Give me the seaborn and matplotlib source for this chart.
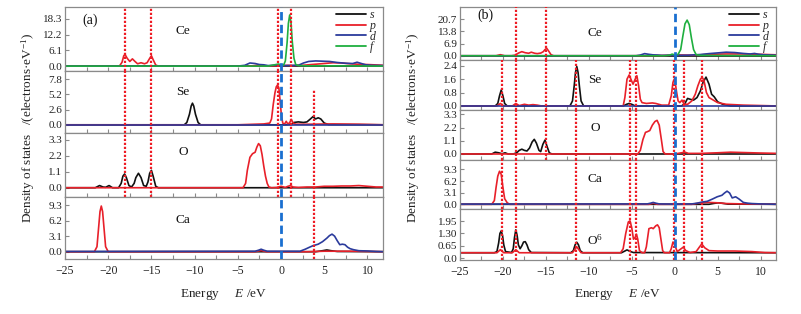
import matplotlib
matplotlib.use('Agg')
import matplotlib.pyplot as plt
import seaborn as sns
from matplotlib.ticker import MultipleLocator, FixedLocator
from matplotlib.lines import Line2D

sns.set_theme(style='white')
plt.rcParams['font.family'] = ['Liberation Serif', 'DejaVu Serif']
plt.rcParams['mathtext.fontset'] = 'custom'
plt.rcParams['mathtext.rm'] = 'Liberation Serif'
plt.rcParams['mathtext.it'] = 'Liberation Serif:italic'

# ---------------- data: panel (a) ----------------
a_ce_s_x = [-25, 12]
a_ce_s_y = [0, 0]
a_ce_p_x = [-25, -18.7, -18.4, -18.2, -18.05, -17.8, -17.5, -17.2, -16.9, -16.6, -16.2, -15.8, -15.5, -15.2, -15.0, -14.8,
            -14.5, -14.2, -5, -3.5, -2.8, -2, 0, 0.8, 1.3, 1.8, 2.5, 3.5, 5, 6, 7, 8, 9, 10, 12]
a_ce_p_y = [0, 0, 1.5, 4.0, 4.5, 3.0, 1.8, 2.8, 1.8, 0.9, 1.3, 0.9, 1.3, 3.0, 4.0, 2.5,
            0.4, 0, 0, 0, 0.3, 0, 0.2, 0.3, 0.2, 0.3, 0.3, 0.6, 1.0, 1.3, 1.2, 0.9, 0.7, 0.6, 0.3]
a_ce_d_x = [-25, -5, -4.2, -3.6, -3.0, -2.5, -2.0, -1.5, -0.5, 0, 0.5, 2, 2.6, 3.2, 4, 4.8, 5.6, 6.5, 7.5, 8.3, 8.8,
            9.3, 9.8, 10.5, 12]
a_ce_d_y = [0, 0, 0.3, 1.2, 1.0, 0.6, 0.5, 0.2, 0.4, 0.3, 0.2, 0.3, 1.2, 1.8, 2.0, 1.9, 1.8, 1.4, 1.1, 1.0, 1.5,
            1.0, 0.5, 0.3, 0.2]
a_ce_f_x = [-25, -1.5, -0.6, -0.3, 0, 0.3, 0.5, 0.7, 0.85, 1.0, 1.15, 1.3, 1.5, 1.7, 2.0, 3, 6, 12]
a_ce_f_y = [0, 0, 0.6, 0.8, 0.5, 0.4, 2.0, 9.0, 16.5, 19.8, 17.0, 9.5, 3.0, 0.6, 0.2, 0.1, 0.1, 0]

a_se_s_x = [-25, -11.2, -10.9, -10.6, -10.4, -10.25, -10.1, -9.9, -9.6, -9.3, 0.5, 1.2, 1.5, 2.0, 2.6, 3.0, 3.4,
            3.7, 4.0, 4.3, 4.6, 5.0, 5.5, 12]
a_se_s_y = [0, 0, 0.4, 1.8, 3.2, 3.7, 3.2, 1.8, 0.4, 0, 0, 0.1, 0.4, 0.5, 0.4, 0.5, 1.0,
            1.4, 1.0, 1.2, 1.0, 0.3, 0.05, 0]
a_se_p_x = [-25, -5, -3, -2, -1.3, -1.1, -0.9, -0.7, -0.55, -0.4, -0.25, -0.1, 0.05, 0.2, 0.4, 0.6, 0.8, 1.0, 1.2,
            1.4, 1.7, 3, 6, 9, 12]
a_se_p_y = [0, 0, 0.1, 0.15, 0.3, 1.0, 3.5, 5.5, 6.5, 6.8, 6.3, 4.0, 1.5, 0.3, 0.1, 0.6, 0.1, 0.4, 0.9,
            0.3, 0.1, 0.1, 0.15, 0.1, 0]
a_se_d_x = [-25, 12]
a_se_d_y = [0, 0]

a_o_s_x = [-25, -21.5, -21.0, -20.6, -20.3, -19.9, -19.5, -18.8, -18.5, -18.3, -18.1, -17.9, -17.6, -17.3, -17.0,
           -16.8, -16.5, -16.2, -15.9, -15.6, -15.4, -15.2, -15.0, -14.8, -14.5, -14.2, -4, 12]
a_o_s_y = [0, 0, 0.15, 0.05, 0.03, 0.15, 0.0, 0.0, 0.3, 0.8, 0.95, 0.7, 0.15, 0.05, 0.3,
           0.7, 1.0, 0.7, 0.15, 0.1, 0.4, 1.0, 1.2, 0.8, 0.1, 0, 0, 0]
a_o_p_x = [-25, -4.4, -4.1, -3.9, -3.6, -3.3, -3.0, -2.8, -2.6, -2.4, -2.2, -2.0, -1.8, -1.6, -1.4, -1.1, -0.5, 0,
           0.5, 0.8, 1.1, 1.4, 2, 3, 4, 5, 6, 7, 8, 9, 10, 11, 12]
a_o_p_y = [0, 0, 0.3, 1.2, 2.1, 2.35, 2.45, 2.8, 3.05, 2.9, 2.3, 1.5, 0.8, 0.3, 0.05, 0, 0.02, 0.1,
           0.02, 0.1, 0.15, 0.05, 0.02, 0.05, 0.05, 0.1, 0.1, 0.12, 0.12, 0.15, 0.1, 0.05, 0.05]

a_ca_s_x = [-25, 4, 4.8, 5.3, 5.8, 6.5, 12]
a_ca_s_y = [0, 0, 0.2, 0.35, 0.2, 0.05, 0]
a_ca_p_x = [-25, -21.6, -21.3, -21.1, -20.95, -20.8, -20.65, -20.5, -20.3, -20.0, -3, -2.3, -1.7, 3, 5, 8, 12]
a_ca_p_y = [0, 0, 1.0, 5.0, 8.0, 9.1, 8.0, 5.0, 1.0, 0, 0, 0.25, 0, 0, 0.1, 0.1, 0]
a_ca_d_x = [-25, -3.0, -2.6, -2.3, -2.0, -1.6, -0.5, 0, 2.2, 2.8, 3.3, 3.7, 4.3, 4.8, 5.3, 5.6, 5.9, 6.2, 6.5, 6.8,
            7.1, 7.4, 7.7, 8.0, 8.4, 9, 10, 11, 12]
a_ca_d_y = [0.05, 0.1, 0.3, 0.5, 0.3, 0.1, 0.1, 0.1, 0.1, 0.5, 0.9, 1.2, 1.5, 2.0, 2.7, 3.2, 3.5, 3.1, 2.2, 1.4,
            1.5, 1.4, 0.9, 0.6, 0.4, 0.2, 0.15, 0.05, 0]

# ---------------- data: panel (b) ----------------
b_ce_s_x = [-25, 12]
b_ce_s_y = [0, 0]
b_ce_p_x = [-25, -20.8, -20.3, -19.8, -19.0, -18.6, -18.2, -17.8, -17.4, -17.0, -16.7, -16.3, -16.0, -15.6, -15.3,
            -15.1, -14.9, -14.7, -14.4, -14.1, -5, -1, 0, 1, 2, 3, 4, 6, 8, 10, 12]
b_ce_p_y = [0, 0, 0.6, 0, 0, 0.3, 1.5, 2.3, 1.7, 1.4, 2.0, 1.4, 1.2, 1.5, 2.3,
            3.5, 4.2, 2.8, 0.6, 0, 0, 0.2, 0.5, 0.4, 0.3, 0.5, 0.8, 1.0, 1.0, 0.8, 0.5]
b_ce_d_x = [-25, -4.5, -4.0, -3.5, -3.0, -2.5, -2.0, -1.5, -0.5, 0, 1.5, 3, 4, 5, 6, 7, 8, 8.8, 9.3, 9.8, 10.5, 12]
b_ce_d_y = [0, 0, 0.4, 1.2, 0.8, 0.5, 0.4, 0.2, 0.3, 0.2, 0.3, 0.7, 1.2, 1.6, 2.0, 1.8, 1.3, 1.0, 1.3, 0.8, 0.5, 0.3]
b_ce_f_x = [-25, -1.2, -0.6, -0.3, 0.1, 0.4, 0.7, 0.95, 1.2, 1.45, 1.7, 1.95, 2.2, 2.5, 3.0, 6, 12]
b_ce_f_y = [0, 0, 0.3, 0.9, 0.4, 0.8, 3.5, 11, 18, 20.1, 17.5, 10, 3.5, 0.6, 0.2, 0.1, 0]

b_se_s_x = [-25, -20.9, -20.6, -20.4, -20.2, -20.0, -19.8, -19.5, -12.2, -11.9, -11.7, -11.55, -11.4, -11.25, -11.1,
            -10.9, -10.6, -6, -5.6, -5.3, -5.0, -4.6, 0.8, 1.2, 1.5, 1.8, 2.2, 2.6, 3.0, 3.3, 3.65, 4.0, 4.3, 4.6,
            5.0, 5.6, 6.5, 12]
b_se_s_y = [0, 0, 0.15, 0.6, 0.95, 0.6, 0.15, 0, 0, 0.3, 1.2, 2.0, 2.35, 2.0, 1.2,
            0.3, 0, 0, 0.1, 0.15, 0.1, 0, 0, 0.15, 0.45, 0.4, 0.35, 0.5, 0.9, 1.4, 1.72, 1.3, 0.7, 0.55,
            0.25, 0.1, 0, 0]
b_se_p_x = [-25, -20.7, -20.3, -19.9, -18.9, -18.5, -18.1, -17.5, -17.0, -16.5, -16.0, -15.5, -6.0, -5.8, -5.55,
            -5.3, -5.1, -4.85, -4.6, -4.4, -4.2, -4.0, -3.8, -3.3, -2.6, -2.2, -1.5, -0.7, -0.4, -0.2, 0.0, 0.2,
            0.4, 0.6, 0.85, 1.1, 1.5, 2.0, 2.4, 2.7, 3.0, 3.2, 3.4, 3.7, 4.0, 4.5, 5.0, 6, 8, 12]
b_se_p_y = [0, 0, 0.15, 0, 0, 0.15, 0.02, 0.1, 0.05, 0.08, 0.05, 0, 0, 0.5, 1.6,
            1.85, 1.6, 1.3, 1.6, 1.8, 1.2, 0.4, 0.2, 0.15, 0.18, 0.15, 0.05, 0.05, 0.6, 1.4, 1.65, 0.9,
            0.3, 0.2, 0.35, 0.1, 0.1, 0.3, 0.7, 1.2, 1.6, 1.7, 1.55, 0.8, 0.5, 0.35, 0.2, 0.1, 0.05, 0]
b_se_d_x = [-25, 12]
b_se_d_y = [0, 0]

b_o_s_x = [-25, -21.3, -20.9, -20.5, -20.1, -19.75, -19.4, -18.8, -18.4, -18.1, -17.8, -17.5, -17.2, -16.9, -16.6,
           -16.35, -16.1, -15.8, -15.6, -15.35, -15.1, -14.85, -14.6, -14.3, 12]
b_o_s_y = [0, 0, 0.15, 0.1, 0.02, 0.1, 0, 0, 0.1, 0.3, 0.4, 0.3, 0.25, 0.5, 1.0,
           1.22, 0.9, 0.3, 0.2, 0.8, 1.16, 0.6, 0.1, 0, 0]
b_o_p_x = [-25, -4.3, -4.0, -3.7, -3.4, -3.2, -2.9, -2.6, -2.3, -2.05, -1.8, -1.55, -1.35, -1.1, 0, 0.8, 1.2, 1.6,
           3, 5, 6.5, 8, 10, 12]
b_o_p_y = [0, 0, 0.3, 1.2, 1.8, 1.85, 1.95, 2.4, 2.7, 2.8, 2.4, 1.2, 0.2, 0, 0, 0.1, 0.15, 0.05,
           0.05, 0.1, 0.15, 0.12, 0.08, 0.05]

b_ca_s_x = [-25, 4, 4.6, 5.1, 5.6, 6.2, 12]
b_ca_s_y = [0, 0, 0.25, 0.4, 0.25, 0.05, 0]
b_ca_p_x = [-25, -21.3, -21.0, -20.8, -20.6, -20.4, -20.2, -20.0, -19.8, -19.5, -19.2, -3, -2.5, -2, 2, 3, 4, 5, 6,
            8, 12]
b_ca_p_y = [0, 0, 1.0, 4.5, 7.5, 8.8, 8.0, 4.5, 1.5, 0.4, 0, 0, 0.3, 0, 0, 0.4, 0.5, 0.4, 0.2, 0.1, 0]
b_ca_d_x = [-25, -3.2, -2.8, -2.5, -2.2, -1.8, 0, 2.0, 2.6, 3.2, 3.8, 4.4, 4.95, 5.5, 5.8, 6.1, 6.4, 6.7, 7.1, 7.5,
            8.0, 8.5, 9.0, 10, 12]
b_ca_d_y = [0.05, 0.1, 0.3, 0.5, 0.3, 0.1, 0.05, 0.1, 0.3, 0.6, 0.8, 1.4, 2.0, 2.4, 3.0, 3.5, 3.0, 1.7, 2.0, 1.4,
            0.5, 0.3, 0.2, 0.1, 0]

b_o6_s_x = [-25, -21, -20.7, -20.5, -20.35, -20.2, -20.05, -19.9, -19.7, -19.0, -18.8, -18.65, -18.5, -18.35, -18.2,
            -18.0, -17.8, -17.6, -17.4, -17.2, -17.0, -16.7, -12.1, -11.8, -11.6, -11.4, -11.2, -11.0, -10.7, -6.2,
            -5.8, -5.55, -5.2, -4.8, 12]
b_o6_s_y = [0.29, 0.29, 0.35, 0.8, 1.3, 1.43, 1.2, 0.7, 0.35, 0.3, 0.5, 1.1, 1.49, 1.2, 0.7,
            0.5, 0.65, 0.85, 0.87, 0.7, 0.45, 0.3, 0.29, 0.4, 0.7, 0.84, 0.7, 0.4, 0.29, 0.29,
            0.38, 0.44, 0.36, 0.3, 0.29]
b_o6_p_x = [-25, -20.7, -20.3, -19.9, -18.9, -18.5, -18.1, -11.9, -11.4, -10.9, -6.3, -6.0, -5.7, -5.4, -5.2, -5.0,
            -4.8, -4.6, -4.45, -4.3, -4.1, -3.8, -3.5, -3.3, -3.0, -2.7, -2.5, -2.2, -2.0, -1.8, -1.6, -1.4, -1.2,
            -0.6, -0.4, -0.2, 0.0, 0.3, 0.6, 1.0, 1.3, 1.8, 2.5, 2.9, 3.15, 3.5, 4.0, 5, 7, 9, 10.5, 12]
b_o6_p_y = [0.29, 0.29, 0.45, 0.29, 0.29, 0.45, 0.29, 0.29, 0.6, 0.29, 0.29, 0.5, 1.3, 1.9, 1.96, 1.6,
            1.0, 1.1, 1.26, 1.0, 0.4, 0.29, 0.29, 0.6, 1.55, 1.6, 1.55, 1.7, 1.75, 1.6, 1.0, 0.4, 0.29,
            0.29, 0.5, 0.85, 0.7, 0.35, 0.45, 0.58, 0.4, 0.3, 0.35, 0.6, 0.75, 0.55, 0.4, 0.38, 0.38, 0.35, 0.3, 0.29]

# element names, y ticks
a_names = ['Ce', 'Se', 'O', 'Ca']
b_names = ['Ce', 'Se', 'O', 'Ca', 'O$^{6}$']
a_yticks = [[0, 6.1, 12.2, 18.3], [0, 2.6, 5.2, 7.8], [0, 1.1, 2.2, 3.3], [0, 3.1, 6.2, 9.3]]
a_yticklabels = [['0.0', '6.1', '12.2', '18.3'], ['0.0', '2.6', '5.2', '7.8'], ['0.0', '1.1', '2.2', '3.3'],
                 ['0.0', '3.1', '6.2', '9.3']]
b_yticks = [[0, 6.9, 13.8, 20.7], [0, 0.8, 1.6, 2.4], [0, 1.1, 2.2, 3.3], [0, 3.1, 6.2, 9.3], [0, 0.65, 1.30, 1.95]]
b_yticklabels = [['0.0', '6.9', '13.8', '20.7'], ['0.0', '0.8', '1.6', '2.4'], ['0.0', '1.1', '2.2', '3.3'],
                 ['0.0', '3.1', '6.2', '9.3'], ['0.0', '0.65', '1.30', '1.95']]

# reference lines (eV) and the sub-plot rows they span
a_red_E = [-18.1, -15.0, -0.3, 1.1, 3.8]
a_red_first = [0, 0, 0, 0, 1]
a_red_last = [2, 2, 2, 2, 3]
a_fermi = 0.05
b_red_E = [-20.1, -18.5, -15.0, -11.45, -5.25, -4.5, -0.1, 1.1, 3.2]
b_red_first = [1, 0, 0, 1, 1, 1, 1, 1, 1]
b_red_last = [4, 4, 2, 4, 4, 4, 4, 4, 4]
b_fermi = 0.0

orbitals = ['s', 'p', 'd', 'f']
colors = {'s': '#111111', 'p': '#e8202a', 'd': '#2b3b9c', 'f': '#1faf3f'}

a_curves = [
    [('s', a_ce_s_x, a_ce_s_y), ('p', a_ce_p_x, a_ce_p_y), ('d', a_ce_d_x, a_ce_d_y), ('f', a_ce_f_x, a_ce_f_y)],
    [('s', a_se_s_x, a_se_s_y), ('p', a_se_p_x, a_se_p_y), ('d', a_se_d_x, a_se_d_y)],
    [('s', a_o_s_x, a_o_s_y), ('p', a_o_p_x, a_o_p_y)],
    [('s', a_ca_s_x, a_ca_s_y), ('p', a_ca_p_x, a_ca_p_y), ('d', a_ca_d_x, a_ca_d_y)],
]
b_curves = [
    [('s', b_ce_s_x, b_ce_s_y), ('p', b_ce_p_x, b_ce_p_y), ('d', b_ce_d_x, b_ce_d_y), ('f', b_ce_f_x, b_ce_f_y)],
    [('s', b_se_s_x, b_se_s_y), ('p', b_se_p_x, b_se_p_y), ('d', b_se_d_x, b_se_d_y)],
    [('s', b_o_s_x, b_o_s_y), ('p', b_o_p_x, b_o_p_y)],
    [('s', b_ca_s_x, b_ca_s_y), ('p', b_ca_p_x, b_ca_p_y), ('d', b_ca_d_x, b_ca_d_y)],
    [('s', b_o6_s_x, b_o6_s_y), ('p', b_o6_p_x, b_o6_p_y)],
]

# ---------------- layout ----------------
W, H = 801, 314
fig = plt.figure(figsize=(W / 100, H / 100), dpi=100)
fig.patch.set_facecolor('white')

a_layout = dict(x0=65, x1=383, rows=[7, 71, 133, 197, 259],
                ylims=[(-1.9, 22.9), (-1.4, 9.2), (-0.64, 3.78), (-1.45, 10.9)],
                name_pos=[(0.371, 0.625), (0.371, 0.66), (0.371, 0.70), (0.371, 0.63)],
                tag='(a)', tag_pos=(0.079, 0.80), ylab_x=28, partial_top=0.71)
b_layout = dict(x0=460, x1=776, rows=[7, 60, 110, 160, 209, 260],
                ylims=[(-2.4, 27.5), (-0.24, 2.74), (-0.5, 3.66), (-1.25, 11.8), (-0.09, 2.58)],
                name_pos=[(0.427, 0.51), (0.427, 0.60), (0.427, 0.64), (0.427, 0.61), (0.427, 0.39)],
                tag='(b)', tag_pos=(0.079, 0.85), ylab_x=413, partial_top=None)

SPINE = '#8a8a8a'


def draw_panel(lay, curves, names, yticks, yticklabels, red_E, red_first, red_last, fermi):
    rows = lay['rows']
    n = len(rows) - 1
    axes = []
    for i in range(n):
        top, bot = rows[i], rows[i + 1]
        ax = fig.add_axes([lay['x0'] / W, 1 - bot / H, (lay['x1'] - lay['x0']) / W, (bot - top) / H])
        ax.set_facecolor('white')
        for kind, xs, ys in curves[i]:
            sns.lineplot(x=xs, y=ys, ax=ax, color=colors[kind], lw=1.2, sort=False,
                         estimator=None, legend=False)
        ax.set_xlim(-25, 11.8)
        ax.set_ylim(*lay['ylims'][i])
        ax.yaxis.set_major_locator(FixedLocator(yticks[i]))
        ax.set_yticklabels(yticklabels[i])
        ax.xaxis.set_major_locator(MultipleLocator(5))
        ax.xaxis.set_minor_locator(MultipleLocator(2.5))
        ax.tick_params(axis='both', which='both', direction='in', length=3, width=0.8, color=SPINE,
                       labelsize=8, pad=2, labelcolor='#222222')
        ax.tick_params(axis='x', which='both', bottom=True, top=False, labelbottom=(i == n - 1), pad=4,
                       labelsize=8.5)
        ax.tick_params(axis='y', left=True, right=False)
        for sp in ax.spines.values():
            sp.set_color(SPINE)
            sp.set_linewidth(0.9)
        ax.set_xlabel('')
        ax.set_ylabel('')
        nx, ny = lay['name_pos'][i]
        ax.text(nx, ny, names[i], transform=ax.transAxes, fontsize=9.5, ha='center', va='center',
                color='#111111')
        axes.append(ax)

    # reference lines
    for E, f, l in zip(red_E, red_first, red_last):
        for i in range(f, l + 1):
            ymax = 1.0
            if i == f and f > 0 and lay['partial_top'] is not None:
                ymax = lay['partial_top']
            axes[i].axvline(E, 0, ymax, color='#ee1c25', ls=(0, (1, 0.8)), lw=1.6, zorder=5)
    for ax in axes:
        ax.axvline(fermi, color='#1a6fd0', ls=(0, (3, 1.6)), lw=2.0, zorder=6)

    # legend
    handles = [Line2D([], [], color=colors[o], lw=1.3) for o in orbitals]
    leg = axes[0].legend(handles, orbitals, loc='upper right', bbox_to_anchor=(0.985, 1.0),
                         frameon=False, fontsize=8.5, handlelength=2.5, handletextpad=0.35,
                         labelspacing=-0.12, borderpad=0.2, borderaxespad=0.0)
    for t in leg.get_texts():
        t.set_fontstyle('italic')
    tx, ty = lay['tag_pos']
    axes[0].text(tx, ty, lay['tag'], transform=axes[0].transAxes, fontsize=10, ha='center',
                 va='center', color='#111111')

    # axis labels
    cx = (lay['x0'] + lay['x1']) / 2 / W
    fig.text(cx, 1 - 294 / H, 'Energy     $E$ /eV', ha='center', va='center', fontsize=9.5,
             color='#222222')
    fig.text(lay['ylab_x'] / W, 1 - 128 / H, 'Density of states   /(electrons·eV$^{-1}$)',
             rotation=90, ha='center', va='center', fontsize=9.5, color='#222222')
    return axes


draw_panel(a_layout, a_curves, a_names, a_yticks, a_yticklabels, a_red_E, a_red_first, a_red_last, a_fermi)
draw_panel(b_layout, b_curves, b_names, b_yticks, b_yticklabels, b_red_E, b_red_first, b_red_last, b_fermi)

fig.savefig('out.png', dpi=100, facecolor='white')
